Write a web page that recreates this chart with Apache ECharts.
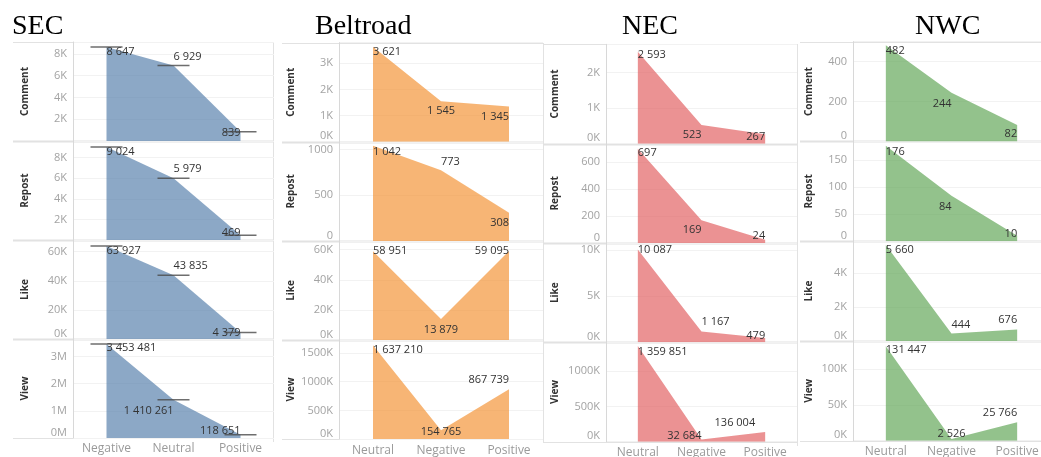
<!DOCTYPE html>
<html><head><meta charset="utf-8">
<script src="https://cdn.jsdelivr.net/npm/echarts@6/dist/echarts.min.js"></script>
<style>html,body{margin:0;padding:0;background:#fff;}#c{width:1041px;height:457px;}</style>
</head><body><div id="c"></div>
<script>
// ---------- data ----------
const regions = ['SEC', 'Beltroad', 'NEC', 'NWC'];
const metrics = ['Comment', 'Repost', 'Like', 'View'];
const secCategories = ['Negative', 'Neutral', 'Positive'];
const otherCategories = ['Neutral', 'Negative', 'Positive'];

const secComment = [8647, 6929, 839];
const secRepost = [9024, 5979, 469];
const secLike = [63927, 43835, 4379];
const secView = [3453481, 1410261, 118651];

const beltComment = [3621, 1545, 1345];
const beltRepost = [1042, 773, 308];
const beltLike = [58951, 13879, 59095];
const beltView = [1637210, 154765, 867739];

const necComment = [2593, 523, 267];
const necRepost = [697, 169, 24];
const necLike = [10087, 1167, 479];
const necView = [1359851, 32684, 136004];

const nwcComment = [482, 244, 82];
const nwcRepost = [176, 84, 10];
const nwcLike = [5660, 444, 676];
const nwcView = [131447, 2526, 25766];

// axis ranges and ticks (per row: Comment, Repost, Like, View)
const secAxisMax = [9100, 9600, 68000, 3640000];
const beltAxisMax = [3780, 1085, 65800, 1727000];
const necAxisMax = [2800, 735, 10800, 1410000];
const nwcAxisMax = [500, 184, 5880, 138900];
const secTickStep = [2000, 2000, 20000, 1000000];
const beltTickStep = [1000, 500, 20000, 500000];
const necTickStep = [1000, 200, 5000, 500000];
const nwcTickStep = [200, 50, 2000, 50000];
const secTickUnit = ['K', 'K', 'K', 'M'];
const beltTickUnit = ['K', '', 'K', 'K'];
const necTickUnit = ['K', '', 'K', 'K'];
const nwcTickUnit = ['', '', 'K', 'K'];

// ---------- styling / layout ----------
const FONT = 'Open Sans';
const colors = ['#4e79a7', '#f28e2b', '#e15759', '#59a14f'];
// label placement per point: [align, dx, dy]
const labelPlace = [
  [[['left',0,5],['left',0,-9],['right',0,1]], [['left',0,5],['left',0,-9],['right',0,-2]], [['left',0,5],['left',0,-9],['right',0,0]], [['left',0,4],['right',0,11],['right',0,-4]]],
  [[['left',0,5],['center',0,10],['right',0,10]], [['left',0,6],['left',0,-8],['right',0,10]], [['left',0,0],['center',0,11],['right',0,0]], [['left',0,5],['center',0,2],['right',0,-9]]],
  [[['left',0,3],['right',0,10],['right',0,3]], [['left',0,4],['right',0,10],['right',0,-4]], [['left',0,0],['left',0,-10],['right',0,-2]], [['left',0,6],['right',0,-4],['right',-10,-9]]],
  [[['left',0,6],['right',0,11],['right',0,9]], [['left',0,6],['right',0,11],['right',0,-2]], [['left',0,5],['left',0,-9],['right',0,-10]], [['left',0,4],['center',0,-5],['right',0,-9]]]
];
const colLayout = [
  {frameL: 13, frameR: 273, axisX: 73, plotW: 201, top: 42, rowH: 99, nameGap: 43, titleX: 12, right: true},
  {frameL: 282, frameR: 543, axisX: 339, plotW: 204, top: 42.7, rowH: 99.1, nameGap: 43, titleX: 315, right: true},
  {frameL: 543, frameR: 797, axisX: 606, plotW: 191, top: 44.3, rowH: 99.35, nameGap: 46, titleX: 622, right: true},
  {frameL: 800, frameR: 1045, axisX: 853, plotW: 197, top: 41.7, rowH: 99.75, nameGap: 39, titleX: 915, right: false}
];

const values = [
  [secComment, secRepost, secLike, secView],
  [beltComment, beltRepost, beltLike, beltView],
  [necComment, necRepost, necLike, necView],
  [nwcComment, nwcRepost, nwcLike, nwcView]
];
const axisMax = [secAxisMax, beltAxisMax, necAxisMax, nwcAxisMax];
const tickStep = [secTickStep, beltTickStep, necTickStep, nwcTickStep];
const tickUnit = [secTickUnit, beltTickUnit, necTickUnit, nwcTickUnit];

function fmtNum(v) { return String(v).replace(/\B(?=(\d{3})+(?!\d))/g, ' '); }
function tickFmt(unit) {
  return function (v) {
    if (unit === 'K') return Math.round(v / 1000) + 'K';
    if (unit === 'M') return Math.round(v / 1000000) + 'M';
    return String(Math.round(v));
  };
}

const grids = [], xAxes = [], yAxes = [], series = [], titles = [], graphics = [];
const lineColor = '#e2e2e2';

for (let c = 0; c < 4; c++) {
  const L = colLayout[c];
  titles.push({
    text: regions[c], left: L.titleX, top: 13, padding: 0,
    textStyle: {fontFamily: 'Liberation Serif', fontSize: 28, fontWeight: 'normal', color: '#000'}
  });
  const bottom = L.top + 4 * L.rowH;
  for (let i = 0; i <= 4; i++) {
    const y = Math.round(L.top + i * L.rowH) + 0.5;
    graphics.push({type: 'line', z: -10, silent: true,
      shape: {x1: L.frameL, y1: y, x2: L.frameR, y2: y},
      style: {stroke: lineColor, lineWidth: (i === 0 || i === 4) ? 1 : 2}});
  }
  if (L.right) {
    graphics.push({type: 'line', z: -10, silent: true,
      shape: {x1: L.frameR + 0.5, y1: Math.round(L.top), x2: L.frameR + 0.5, y2: Math.round(bottom) + 4},
      style: {stroke: lineColor, lineWidth: 1}});
  }
  const cats = c === 0 ? secCategories : otherCategories;
  for (let r = 0; r < 4; r++) {
    const idx = c * 4 + r;
    grids.push({left: L.axisX, width: L.plotW, top: L.top + r * L.rowH, height: L.rowH,
      containLabel: false, outerBoundsMode: 'none'});
    xAxes.push({
      type: 'category', gridIndex: idx, data: cats, boundaryGap: true,
      axisLine: {show: false}, axisTick: {show: false}, splitLine: {show: false},
      axisLabel: {show: r === 3, color: '#9a9a9a', fontSize: 12, margin: 5, fontFamily: FONT, interval: 0}
    });
    yAxes.push({
      type: 'value', gridIndex: idx, min: 0, max: axisMax[c][r], interval: tickStep[c][r],
      name: metrics[r], nameLocation: 'middle', nameGap: L.nameGap, nameRotate: 90,
      nameTextStyle: {fontWeight: 'bold', fontSize: 10, color: '#333', fontFamily: FONT},
      axisLine: {show: true, lineStyle: {color: '#d8d8d8', width: 1}},
      axisTick: {show: false},
      splitLine: {show: true, lineStyle: {color: '#f2f2f2', width: 1}},
      axisLabel: {
        color: '#a3a3a3', fontSize: 11, margin: 6, fontFamily: FONT,
        showMaxLabel: false, showMinLabel: !(c === 0 && r < 2),
        verticalAlignMinLabel: 'bottom', hideOverlap: false,
        formatter: tickFmt(tickUnit[c][r])
      }
    });
    const place = labelPlace[c][r];
    const data = values[c][r].map(function (v, k) {
      return {value: v, label: {align: place[k][0], offset: [place[k][1], place[k][2]]}};
    });
    series.push({
      type: 'line', xAxisIndex: idx, yAxisIndex: idx, data: data,
      symbol: 'circle', symbolSize: 1, showSymbol: true,
      itemStyle: {color: 'rgba(0,0,0,0)'},
      lineStyle: {width: 0, color: colors[c]},
      areaStyle: {color: colors[c], opacity: 0.65},
      label: {show: true, position: 'inside', verticalAlign: 'middle', color: '#333',
        fontSize: 11, fontFamily: FONT, formatter: function (p) { return fmtNum(p.value); }},
      emphasis: {disabled: true}, silent: true, z: 2
    });
    if (c === 0) {
      series.push({
        type: 'scatter', xAxisIndex: idx, yAxisIndex: idx, data: values[c][r],
        symbol: 'rect', symbolSize: [32, 1.5], itemStyle: {color: '#4a4a4a'},
        emphasis: {disabled: true}, silent: true, z: 3
      });
    }
  }
}

const chart = echarts.init(document.getElementById('c'), null, {renderer: 'canvas'});
chart.setOption({
  animation: false,
  backgroundColor: '#fff',
  title: titles,
  grid: grids,
  xAxis: xAxes,
  yAxis: yAxes,
  series: series,
  graphic: {elements: graphics}
});
</script>
</body></html>
